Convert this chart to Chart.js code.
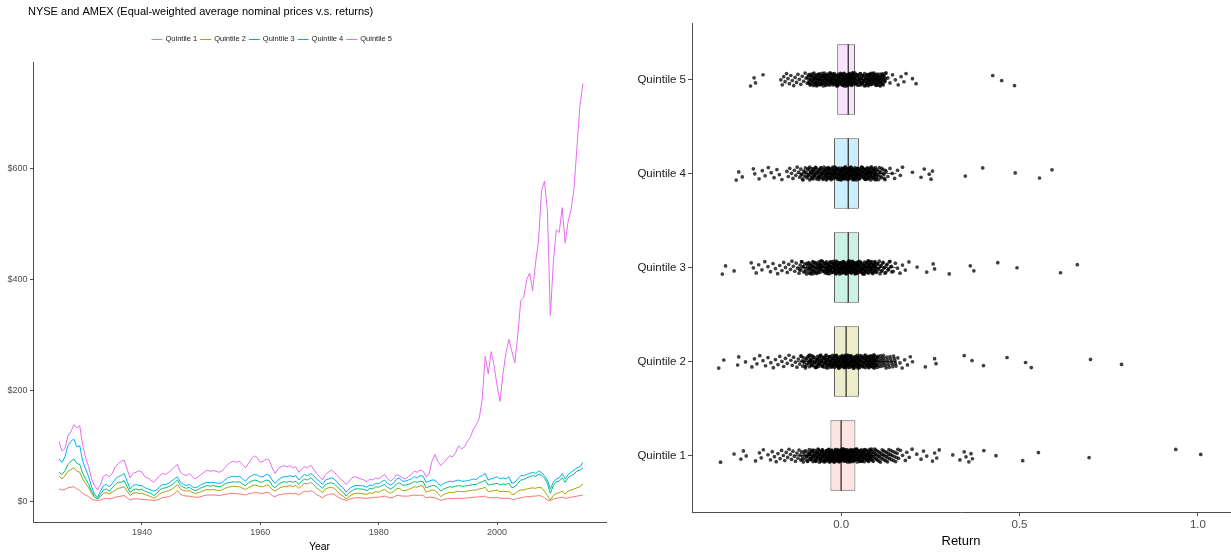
<!DOCTYPE html>
<html>
<head>
<meta charset="utf-8">
<script src="https://cdn.jsdelivr.net/npm/chart.js@4.4.1/dist/chart.umd.min.js"></script>
<style>
  html, body { margin: 0; padding: 0; background: #fff; }
  #wrap { position: relative; width: 1231px; height: 556px; overflow: hidden; }
  #prices { position: absolute; left: 0; top: 0; }
  #returns { position: absolute; left: 615px; top: 0; }
</style>
</head>
<body>
<div id="wrap">
  <canvas id="prices" width="615" height="556"></canvas>
  <canvas id="returns" width="616" height="556"></canvas>
</div>
<script>
// ---------- shared labels ----------
const chartTitle = 'NYSE and AMEX (Equal-weighted average nominal prices v.s. returns)';
const seriesNames = ['Quintile 1', 'Quintile 2', 'Quintile 3', 'Quintile 4', 'Quintile 5'];

// ---------- price panel: half-yearly observations, 1926.0 to 2014.5 ----------
const firstYear = 1926;
const yearTicks = [1940, 1960, 1980, 2000];
const priceTicks = [0, 200, 400, 600];

const q1Prices = [
  22,20,21,24,25,26,22,19,14,11,8,4,2,1,2,4,5,4,5,7,
  8,9,10,6,2,4,4,4,3,3,2,2,1,2,4,6,7,8,10,14,
  19,12,10,9,9,8,7,7,8,10,11,11,11,11,10,11,12,13,14,14,
  13,13,12,11,13,14,15,15,14,14,16,15,10,8,11,12,13,13,14,13,
  14,11,15,18,17,19,16,12,9,6,10,12,13,12,8,5,3,1,3,5,
  6,6,6,5,5,6,6,7,7,8,9,7,6,7,10,10,9,9,9,10,
  11,10,11,10,6,7,7,6,4,1,3,4,5,4,5,5,5,5,6,6,
  7,7,8,8,9,6,6,6,7,5,5,5,5,3,3,5,6,7,8,8,
  9,9,10,9,6,2,0.5,4,5,6,7,5,6,7,8,9,10,11
];
const q2Prices = [
  46,40,45,54,57,60,54,52,40,32,24,14,7,4,8,14,15,13,16,20,
  23,24,26,18,10,14,15,14,14,12,10,8,5,8,13,16,17,19,21,25,
  30,22,19,18,19,16,14,15,17,19,21,20,21,20,19,20,23,25,26,27,
  26,26,23,21,24,27,29,28,26,26,29,28,21,18,22,25,26,26,28,26,
  28,23,28,32,31,34,30,24,20,15,22,24,25,23,18,12,9,4,8,12,
  14,14,14,13,12,15,14,17,16,19,21,17,14,17,22,23,19,19,21,23,
  26,25,28,27,16,18,20,19,14,8,12,14,16,15,17,18,17,17,18,19,
  20,20,22,23,25,17,18,19,20,17,18,17,18,12,13,18,20,20,22,23,
  24,23,25,24,18,10,2,10,14,15,18,13,18,20,22,24,26,31
];
const q3Prices = [
  52,48,55,66,72,76,68,66,50,40,30,18,8,4,12,20,22,18,24,30,
  34,34,37,26,16,20,22,20,21,18,16,14,10,14,20,23,24,26,29,33,
  38,28,25,23,25,21,19,21,24,26,28,27,28,27,26,27,31,33,34,35,
  34,35,31,28,33,36,38,37,34,35,38,37,28,24,30,33,35,34,36,34,
  36,30,36,40,38,42,38,32,28,23,30,32,33,31,26,20,16,9,15,19,
  22,22,22,21,19,23,22,26,25,28,30,25,22,25,31,33,29,29,30,32,
  35,34,36,35,24,26,28,28,24,18,22,24,26,25,27,28,27,27,28,29,
  30,30,33,35,38,29,30,31,32,29,31,30,32,24,26,32,38,39,42,44,
  46,45,48,47,42,32,14,28,35,36,42,34,42,46,49,54,56,60
];
const q4Prices = [
  76,70,80,100,108,112,98,100,72,58,44,26,12,7,18,28,30,26,32,40,
  44,46,50,36,22,28,30,28,28,24,22,20,18,20,26,30,30,32,36,40,
  44,34,30,28,30,26,24,26,30,32,34,33,34,33,32,33,38,42,44,45,
  44,45,40,36,42,46,48,47,44,44,48,47,38,32,38,42,44,44,46,44,
  46,38,44,48,46,50,46,40,36,30,38,40,42,40,34,28,24,16,22,26,
  28,28,28,27,25,29,28,32,31,35,38,32,29,32,40,42,36,36,38,40,
  44,42,46,45,34,36,38,38,32,28,32,34,36,35,37,38,36,36,37,38,
  40,39,44,46,50,38,40,42,44,40,42,40,44,32,34,40,46,46,48,50,
  52,50,54,52,46,38,22,34,40,42,50,40,48,52,56,60,62,70
];
const q5Prices = [
  108,90,95,118,125,138,132,136,100,78,62,40,28,20,30,45,48,44,50,62,
  68,72,74,58,42,50,52,55,52,44,42,38,34,40,46,50,48,52,56,62,
  66,52,48,46,50,44,40,44,48,52,56,54,55,54,52,54,60,66,70,72,
  70,72,66,60,68,76,82,78,70,72,76,74,60,50,58,62,64,62,64,60,
  62,52,58,62,60,65,58,50,44,38,48,52,56,52,46,40,36,30,36,42,
  44,42,40,38,35,40,38,42,40,44,48,40,36,40,48,46,42,40,44,48,
  54,52,56,54,44,48,72,84,72,64,70,76,82,80,88,100,94,98,108,116,
  130,138,150,186,262,230,270,245,208,180,230,268,292,270,250,300,362,368,400,412,
  380,430,470,560,578,525,335,430,490,485,530,466,505,526,565,640,715,754
];
const years = q5Prices.map((_, i) => firstYear + i / 2);

// ---------- return panel: monthly returns by quintile ----------
const returnTicks = [0, 0.5, 1.0];
const q1Returns = [
  -.338,-.300,-.281,-.274,-.266,-.240,-.229,-.224,-.218,-.205,-.198,-.193,-.187,-.182,-.177,-.171,-.167,-.162,-.158,-.154,-.150,-.146,-.142,-.139,-.135,-.131,-.128,-.124,-.121,-.118,
  -.115,-.113,-.111,-.108,-.106,-.104,-.101,-.099,-.097,-.095,-.093,-.091,-.089,-.087,-.085,-.083,-.081,-.079,-.077,-.075,-.074,-.072,-.070,-.068,-.067,-.065,-.063,-.062,-.060,-.058,
  -.057,-.055,-.054,-.052,-.051,-.049,-.048,-.046,-.045,-.044,-.042,-.041,-.040,-.038,-.037,-.036,-.035,-.033,-.032,-.031,
  -.030,-.029,-.027,-.027,-.026,-.024,-.023,-.023,-.021,-.020,-.019,-.017,-.016,-.016,-.014,-.013,-.012,-.011,-.009,-.008,-.008,-.006,-.005,-.004,-.003,-.002,-.001,.000,.000,.001,
  .003,.004,.004,.006,.007,.008,.009,.011,.012,.012,.014,.015,.016,.018,.019,.020,.021,.022,.024,.025,.026,.027,.029,.030,.031,.032,.033,.035,.036,.037,.038,.039,
  .041,.043,.044,.046,.047,.049,.050,.052,.053,.055,.057,.058,.060,.062,.063,.065,.067,.069,.070,.072,.074,.076,.078,.080,.082,.084,.086,.088,.090,.093,
  .095,.097,.100,.102,.105,.107,.110,.113,.116,.119,.122,.125,.128,.131,.134,.138,.141,.145,.149,.153,.157,.161,
  .166,.172,.180,.184,.191,.199,.212,.224,.231,.240,.256,.262,.268,.275,.313,.333,.345,.350,.358,.364,.368,.400,.434,.509,.553,.695,.938,1.008,
  -.109,-.103,-.098,-.094,-.088,-.084,-.080,-.076,-.073,-.069,-.066,-.061,-.059,-.056,-.053,-.050,-.047,-.043,-.039,-.034,-.030,-.028,-.025,-.022,-.018,-.015,-.010,-.007,-.004,-.002,
  .002,.005,.008,.010,.013,.017,.020,.023,.026,.028,.031,.034,.037,.040,.042,.045,.048,.051,.054,.056,.059,.061,.064,.066,.068,.071,.073,.075,.077,.079,
  .081,.083,.085,.087,.089,.091,.094,.096,.099,.101,.104,.106,.109,.112,.115,.118,.121,.124,.127,.130,.133,.136,.140,.143,.147,.151,.155,.159,
  -.090,-.086,-.082,-.078,-.071,-.064,-.058,-.053,-.048,-.044,-.040,-.036,-.033,-.030,-.028,-.026,-.024,-.022,-.020,-.018,-.016,-.014,-.012,-.010,-.009,-.007,-.006,-.004,-.003,-.001,
  .001,.002,.004,.005,.007,.008,.010,.011,.013,.014,.016,.017,.019,.020,.022,.023,.025,.026,.028,.029,.031,.033,.035,.037,.039,.041,.044,.047,.050,.053,
  .057,.061,.065,.069,.073,.077,.081,.085,-.089,-.085,-.081,-.077,-.073,-.070,-.067,-.063,-.060,-.057,-.054,-.051,-.049,-.046,-.043,-.041,-.038,-.035,-.033,-.031,
  .043,.046,.049,.052,.055,.058,.062,.066,.070,.074,.078
];
const q2Returns = [
  -.343,-.329,-.290,-.287,-.268,-.250,-.243,-.236,-.228,-.219,-.212,-.205,-.197,-.190,-.184,-.177,-.172,-.166,-.161,-.156,-.151,-.146,-.141,-.137,-.133,-.128,-.124,-.120,-.116,
  -.113,-.110,-.108,-.105,-.103,-.100,-.098,-.096,-.093,-.091,-.089,-.087,-.084,-.082,-.080,-.078,-.076,-.074,-.072,-.070,-.068,-.066,-.064,-.062,-.060,
  -.058,-.057,-.055,-.053,-.051,-.050,-.048,-.046,-.045,-.043,-.042,-.040,-.039,-.037,-.036,-.034,-.033,-.031,-.030,-.028,-.027,-.026,-.024,-.023,-.022,
  -.020,-.019,-.018,-.016,-.015,-.014,-.012,-.011,-.010,-.009,-.007,-.006,-.005,-.004,-.002,-.001,.000,.001,.003,.004,.005,.006,.008,.009,.010,.011,.012,.013,
  .014,.015,.017,.018,.019,.020,.022,.023,.024,.025,.027,.028,.029,.030,.032,.033,.034,.036,.037,.038,.039,.041,.042,.043,.045,.046,.047,.049,
  .051,.052,.054,.056,.057,.059,.061,.063,.065,.067,.069,.071,.073,.075,.077,.079,.081,.083,.086,.088,.090,.093,.095,.098,.100,
  .103,.106,.109,.112,.115,.118,.121,.124,.128,.131,.135,.139,.143,.147,.151,.154,
  .159,.165,.171,.178,.186,.194,.200,.236,.262,.266,.345,.367,.399,.465,.517,.533,.699,.786,
  -.111,-.106,-.101,-.097,-.092,-.088,-.085,-.081,-.077,-.073,-.069,-.065,-.061,-.059,-.056,-.052,-.049,-.044,-.041,-.038,-.035,-.032,-.029,-.025,-.021,-.017,-.013,-.008,-.003,.002,
  .007,.011,.016,.021,.026,.031,.035,.040,.044,.048,.053,.055,.058,.060,.062,.064,.066,.068,.070,.072,.074,.076,.078,.080,.082,.084,.085,.087,.089,.091,
  .092,.094,.096,.097,.099,.102,.104,.107,.110,.113,.116,.119,.122,.126,.130,.133,.137,.141,.145,.149,.152,
  -.090,-.087,-.083,-.079,-.075,-.071,-.067,-.063,-.059,-.055,-.052,-.048,-.045,-.042,-.039,-.036,-.033,-.030,-.027,-.024,-.021,-.018,-.016,-.013,-.011,-.008,-.006,-.004,-.001,.001,
  .003,.005,.007,.009,.011,.013,.015,.016,.018,.020,.022,.024,.026,.028,.030,.032,.034,.036,.038,.040,.042,.044,.046,.048,.050,.053,.056,.059,.062,.065,
  .068,.071,.074,.077,.080,.083,.086,.089,.092,.095,.098,.101,-.085,-.069,-.044,-.026,.019,.035,.052,.066,.079,.091
];
const q3Returns = [
  -.333,-.324,-.300,-.252,-.246,-.238,-.231,-.222,-.214,-.205,-.198,-.191,-.184,-.178,-.172,-.166,-.161,-.156,-.151,-.147,-.142,-.138,-.134,-.130,-.126,-.122,
  -.118,-.115,-.113,-.110,-.107,-.105,-.102,-.100,-.097,-.095,-.093,-.090,-.088,-.086,-.084,-.081,-.079,-.077,-.075,-.073,-.071,-.069,-.067,-.065,-.063,-.061,-.059,-.057,-.056,
  -.054,-.052,-.050,-.049,-.047,-.045,-.044,-.042,-.041,-.039,-.038,-.036,-.035,-.033,-.032,-.030,-.029,-.027,-.026,-.024,-.023,-.022,
  -.020,-.019,-.017,-.016,-.015,-.013,-.012,-.011,-.009,-.008,-.007,-.005,-.004,-.003,-.001,.000,.001,.003,.004,.005,.007,.008,.009,.010,.012,.013,.014,
  .015,.017,.018,.019,.020,.021,.023,.024,.025,.026,.028,.029,.030,.031,.033,.034,.035,.037,.038,.039,.041,.042,.043,.045,.046,.047,.049,
  .051,.052,.054,.056,.058,.060,.062,.064,.066,.068,.070,.072,.074,.076,.078,.080,.083,.085,.087,.090,.092,.095,.097,.100,
  .103,.106,.109,.112,.115,.118,.122,.125,.129,.133,.137,.141,
  .146,.152,.158,.165,.172,.180,.190,.213,.240,.258,.262,.303,.362,.372,.439,.493,.615,.662,
  -.116,-.111,-.106,-.101,-.096,-.092,-.089,-.085,-.082,-.078,-.074,-.070,-.066,-.062,-.058,-.055,-.051,-.046,-.043,-.040,-.037,-.034,-.031,-.028,-.025,-.021,-.018,-.014,-.010,-.006,
  -.002,.002,.006,.011,.016,.022,.027,.032,.036,.040,.044,.048,.053,.055,.057,.059,.061,.063,.065,.067,.069,.071,.073,.075,.077,.079,.081,.082,.084,.086,
  .088,.089,.091,.093,.094,.096,.098,.101,.104,.107,.110,.113,.116,.120,.123,.127,.131,.135,.139,.142,
  -.091,-.087,-.083,-.080,-.076,-.072,-.068,-.064,-.060,-.056,-.053,-.049,-.046,-.043,-.040,-.037,-.034,-.031,-.028,-.025,-.022,-.019,-.016,-.014,-.011,-.009,-.006,-.004,-.002,.001,
  .003,.005,.007,.009,.011,.013,.015,.017,.019,.021,.023,.025,.027,.029,.031,.033,.035,.037,.039,.041,.043,.045,.047,.050,.053,.056,.059,.062,.065,.068,
  .071,.074,.077,.080,.083,.086,.089,.092,.095,.099,-.078,-.058,-.038,-.017,.012,.028,.044,.060,.076,.092
];
const q4Returns = [
  -.294,-.287,-.277,-.246,-.242,-.230,-.221,-.213,-.204,-.196,-.188,-.180,-.173,-.166,-.152,-.148,-.144,-.139,-.135,-.131,-.127,-.123,-.119,-.116,
  -.113,-.110,-.108,-.105,-.103,-.100,-.098,-.095,-.093,-.091,-.088,-.086,-.084,-.082,-.080,-.078,-.076,-.074,-.072,-.070,-.068,-.066,-.064,-.062,-.060,
  -.058,-.056,-.055,-.053,-.051,-.049,-.048,-.046,-.044,-.043,-.041,-.040,-.038,-.037,-.035,-.034,-.032,-.031,-.029,-.028,-.026,-.025,-.024,-.022,-.021,
  -.020,-.018,-.017,-.016,-.014,-.013,-.012,-.010,-.009,-.008,-.006,-.005,-.004,-.002,-.001,.000,.002,.003,.004,.006,.007,.008,.009,.011,.012,.013,.015,
  .016,.017,.018,.019,.021,.022,.023,.025,.026,.027,.028,.030,.031,.032,.034,.035,.036,.038,.039,.040,.042,.043,.044,.046,.047,.048,.049,
  .051,.053,.055,.057,.059,.061,.063,.065,.067,.069,.071,.073,.075,.078,.080,.082,.085,.087,.090,.092,.095,.098,
  .101,.104,.107,.110,.113,.117,.120,.123,.126,
  .131,.137,.143,.150,.158,.166,.172,.200,.224,.233,.247,.252,.256,.348,.397,.488,.556,.591,
  -.112,-.107,-.102,-.097,-.092,-.087,-.083,-.079,-.075,-.071,-.067,-.063,-.059,-.054,-.050,-.047,-.042,-.039,-.036,-.033,-.030,-.027,-.023,-.019,-.015,-.011,-.007,-.003,.001,.005,
  .010,.014,.020,.024,.029,.033,.037,.041,.045,.050,.052,.054,.056,.058,.060,.062,.064,.066,.068,.070,.072,.074,.076,.077,.079,.081,.083,.084,.086,.088,
  .089,.091,.093,.094,.096,.097,.099,.100,.102,.105,.108,.111,.114,.118,.121,.124,
  -.092,-.088,-.084,-.080,-.076,-.072,-.068,-.064,-.060,-.057,-.053,-.050,-.047,-.044,-.041,-.038,-.035,-.032,-.029,-.026,-.023,-.020,-.017,-.015,-.012,-.010,-.007,-.005,-.002,.000,
  .002,.004,.006,.008,.010,.012,.014,.016,.018,.020,.022,.024,.026,.028,.030,.032,.034,.036,.038,.040,.042,.044,.046,.049,.052,.055,.058,.061,.064,.067,
  .070,.073,.076,.079,.082,.085,.088,.091,.094,.097,-.081,-.061,-.039,-.018,.011,.027,.043,.059,.075,.090
];
const q5Returns = [
  -.254,-.244,-.240,-.219,-.169,-.165,-.161,-.157,-.153,-.149,-.145,-.141,-.137,-.133,-.129,-.125,-.121,-.117,-.113,-.109,-.105,-.101,-.098,
  -.095,-.092,-.090,-.087,-.085,-.082,-.080,-.078,-.075,-.073,-.071,-.069,-.067,-.065,-.063,-.061,-.059,-.057,-.055,-.053,-.051,-.049,-.047,
  -.045,-.044,-.042,-.040,-.038,-.037,-.035,-.034,-.032,-.031,-.029,-.028,-.026,-.025,-.023,-.022,-.020,-.019,-.018,-.016,-.015,-.014,-.012,
  -.011,-.010,-.009,-.007,-.006,-.005,-.004,-.002,-.001,.000,.001,.003,.004,.005,.006,.008,.009,.010,.011,.012,.014,
  .015,.016,.017,.018,.020,.021,.022,.023,.024,.026,.027,.028,.029,.030,.032,.033,.034,.035,.036,.038,.039,
  .041,.043,.045,.047,.049,.051,.053,.055,.057,.059,.061,.063,.065,.067,.070,.072,.074,.077,.079,.082,.084,.087,
  .090,.093,.096,.099,.102,.105,.109,.112,.116,.119,.123,.126,
  .131,.137,.144,.152,.160,.168,.176,.182,.200,.210,.425,.450,.486,
  -.094,-.091,-.088,-.086,-.083,-.081,-.079,-.076,-.074,-.072,-.070,-.068,-.066,-.064,-.062,-.060,-.058,-.056,-.054,-.052,-.050,-.048,-.046,-.043,-.041,-.039,-.036,-.033,-.030,-.027,
  -.024,-.021,-.017,-.013,-.008,-.003,.002,.007,.013,.019,.025,.031,.037,.042,.046,.050,.054,.058,.062,.066,.068,.071,.073,.075,.076,.078,.080,.081,.083,.085,
  .086,.088,.089,.091,.092,.094,.095,.097,.098,.100,.101,.103,.104,.106,.108,.110,.111,.113,.115,.117,.118,.120,.122,.124,.125,
  -.089,-.085,-.081,-.077,-.073,-.069,-.065,-.061,-.057,-.053,-.050,-.047,-.044,-.041,-.038,-.035,-.032,-.029,-.026,-.023,-.020,-.018,-.015,-.013,-.010,-.008,-.005,-.003,.000,.002,
  .004,.006,.008,.010,.012,.014,.016,.018,.020,.022,.024,.026,.028,.030,.032,.034,.036,.038,.040,.042,.044,.047,.050,.053,.056,.059,.062,.065,.068,.071,
  .074,.077,.080,.083,.086,.089,.092,.095,.098,.101,.104,.107,.110,.113,.116,.119,-.071,-.049,-.027,.009,.033,.057,.081,.102
];

// box-plot summaries per quintile (Quintile 1 .. Quintile 5)
const boxLow      = [-0.030, -0.020, -0.020, -0.020, -0.011];
const boxMedian   = [ 0.000,  0.014,  0.020,  0.020,  0.020];
const boxHigh     = [ 0.040,  0.050,  0.050,  0.050,  0.039];
const whiskerLow  = [-0.135, -0.125, -0.125, -0.125, -0.086];
const whiskerHigh = [ 0.145,  0.155,  0.155,  0.155,  0.114];

// ---------- styling ----------
const FONT = '"Liberation Sans", Arial, Helvetica, sans-serif';
Chart.defaults.font.family = FONT;
const hue = ['#F8766D', '#A3A500', '#00BF7D', '#00B0F6', '#E76BF3'];
const boxFill = ['#FEE4E2', '#EDEDCC', '#CCF2E5', '#CCEFFD', '#FAE1FD'];
const axisColor = '#4d4d4d';

// title and key drawn above the price panel
const header = {
  id: 'header',
  afterDraw(chart) {
    const ctx = chart.ctx;
    ctx.save();
    ctx.fillStyle = '#000';
    ctx.font = '11px ' + FONT;
    ctx.textBaseline = 'alphabetic';
    ctx.textAlign = 'left';
    ctx.fillText(chartTitle, 28, 15);

    ctx.font = '7.5px ' + FONT;
    ctx.textBaseline = 'middle';
    let x = 151.5;
    const y = 39;
    seriesNames.forEach((name, k) => {
      ctx.strokeStyle = hue[k];
      ctx.lineWidth = 1;
      ctx.beginPath();
      ctx.moveTo(x, y + 0.5);
      ctx.lineTo(x + 11, y + 0.5);
      ctx.stroke();
      x += 14;
      ctx.fillStyle = '#1a1a1a';
      ctx.fillText(name, x, y);
      x += ctx.measureText(name).width + 3;
    });
    ctx.restore();
  }
};

const priceSeries = [q1Prices, q2Prices, q3Prices, q4Prices, q5Prices];

new Chart(document.getElementById('prices'), {
  type: 'line',
  data: {
    datasets: priceSeries.map((vals, k) => ({
      label: seriesNames[k],
      data: vals.map((v, i) => ({ x: years[i], y: v })),
      borderColor: hue[k],
      backgroundColor: hue[k],
      borderWidth: 1,
      pointRadius: 0,
      tension: 0,
      fill: false,
      order: 4 - k
    }))
  },
  options: {
    responsive: false,
    animation: false,
    events: [],
    layout: { autoPadding: false, padding: { top: 62, right: 9, left: 0, bottom: 0 } },
    plugins: { legend: { display: false }, title: { display: false }, tooltip: { enabled: false } },
    scales: {
      x: {
        type: 'linear',
        min: 1921.6,
        max: 2018.4,
        afterBuildTicks: s => { s.ticks = yearTicks.map(v => ({ value: v })); },
        afterFit: s => { s.height = 34; },
        grid: { drawOnChartArea: false, drawTicks: true, tickLength: 3, color: axisColor, lineWidth: 1 },
        border: { display: true, color: axisColor, width: 1 },
        ticks: { color: '#4D4D4D', font: { size: 9 }, padding: 2, maxRotation: 0, callback: v => String(v) },
        title: { display: true, text: 'Year', color: '#000', font: { size: 10.5 }, padding: { top: 0, bottom: 3 } }
      },
      y: {
        type: 'linear',
        min: -37.75,
        max: 793,
        afterBuildTicks: s => { s.ticks = priceTicks.map(v => ({ value: v })); },
        afterFit: s => { s.width = 33; },
        grid: { drawOnChartArea: false, drawTicks: true, tickLength: 3, color: axisColor, lineWidth: 1 },
        border: { display: true, color: axisColor, width: 1 },
        ticks: { color: '#4D4D4D', font: { size: 9 }, padding: 2.5, callback: v => '$' + v }
      }
    }
  },
  plugins: [header]
});

// ---------- return panel ----------
const returnSeries = [q1Returns, q2Returns, q3Returns, q4Returns, q5Returns];
// vertical spread of the jittered points around each quintile row
const jitterHeight = 0.14;
const jitter = i => (((i * 0.6180339887) % 1) - 0.5) * jitterHeight;

const pointSets = returnSeries.map((vals, k) => ({
  type: 'scatter',
  data: vals.map((r, i) => ({ x: r, y: k + 1 + jitter(i) })),
  pointRadius: 1.85,
  pointBackgroundColor: 'rgba(0,0,0,0.75)',
  pointBorderWidth: 0,
  order: 0
}));

const medianSet = {
  type: 'scatter',
  data: boxMedian.map((m, k) => ({ x: m, y: k + 1 })),
  pointStyle: 'line',
  rotation: 90,
  pointRadius: 35.25,
  pointBorderColor: '#333',
  pointBorderWidth: 1.3,
  order: 1
};

const whiskerSets = whiskerLow.map((lo, k) => ({
  type: 'scatter',
  showLine: true,
  data: [{ x: lo, y: k + 1 }, { x: whiskerHigh[k], y: k + 1 }],
  borderColor: '#555',
  borderWidth: 1,
  pointRadius: 0,
  order: 3
}));

const boxSet = {
  type: 'bar',
  indexAxis: 'y',
  data: boxLow.map((lo, k) => ({ x: [lo, boxHigh[k]], y: k + 1 })),
  backgroundColor: boxFill,
  borderColor: '#5f5f5f',
  borderWidth: 1,
  borderSkipped: false,
  barPercentage: 0.75,
  categoryPercentage: 1,
  order: 2
};

new Chart(document.getElementById('returns'), {
  type: 'scatter',
  data: { datasets: [...pointSets, medianSet, boxSet, ...whiskerSets] },
  options: {
    responsive: false,
    animation: false,
    events: [],
    layout: { autoPadding: false, padding: { top: 23, right: 1, left: 0, bottom: 0 } },
    plugins: { legend: { display: false }, title: { display: false }, tooltip: { enabled: false } },
    scales: {
      x: {
        type: 'linear',
        min: -0.418,
        max: 1.09,
        offset: false,
        afterBuildTicks: s => { s.ticks = returnTicks.map(v => ({ value: v })); },
        afterFit: s => { s.height = 44; },
        grid: { offset: false, drawOnChartArea: false, drawTicks: true, tickLength: 4, color: axisColor, lineWidth: 1 },
        border: { display: true, color: axisColor, width: 1 },
        ticks: { color: '#4D4D4D', font: { size: 11.5 }, padding: 2, maxRotation: 0, callback: v => v.toFixed(1) },
        title: { display: true, text: 'Return', color: '#000', font: { size: 13 }, padding: { top: 0, bottom: 7 } }
      },
      y: {
        type: 'linear',
        min: 0.4,
        max: 5.6,
        offset: false,
        afterBuildTicks: s => { s.ticks = seriesNames.map((_, k) => ({ value: k + 1 })); },
        afterFit: s => { s.width = 77; },
        grid: { offset: false, drawOnChartArea: false, drawTicks: true, tickLength: 4, color: axisColor, lineWidth: 1 },
        border: { display: true, color: axisColor, width: 1 },
        ticks: { color: '#1a1a1a', font: { size: 11.5 }, padding: 2, callback: v => seriesNames[Math.round(v) - 1] }
      }
    }
  }
});
</script>
</body>
</html>
